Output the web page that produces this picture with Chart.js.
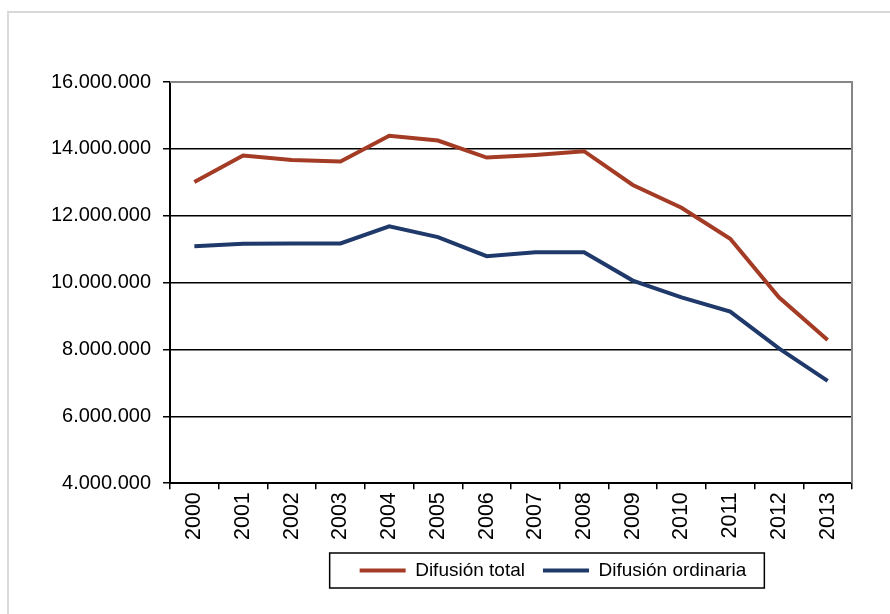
<!DOCTYPE html>
<html>
<head>
<meta charset="utf-8">
<script src="https://cdn.jsdelivr.net/npm/chart.js@4/dist/chart.umd.min.js"></script>
<style>
    html, body { margin: 0; padding: 0; background: #ffffff; }
    #chartBox { width: 890px; height: 614px; }
</style>
</head>
<body>
<div id="chartBox"><canvas id="chtDifusion"></canvas></div>
<script>
'use strict';
let years = ['2000', '2001', '2002', '2003', '2004', '2005', '2006', '2007', '2008', '2009', '2010', '2011', '2012', '2013'];
let difusionTotal = [13010000, 13800000, 13670000, 13620000, 14390000, 14250000, 13740000, 13820000, 13930000, 12920000, 12240000, 11310000, 9560000, 8280000];
let difusionOrdinaria = [11090000, 11160000, 11170000, 11170000, 11680000, 11360000, 10790000, 10910000, 10910000, 10060000, 9560000, 9130000, 8030000, 7060000];
let seriesLabels = ['Difusión total', 'Difusión ordinaria'];
let yTicks = { min: 4000000, max: 16000000, step: 2000000 };

let colors = {
    total: '#a33b25',
    ordinaria: '#1f3a6a',
    frame: '#d9d9d9',
    plotBorder: '#868686',
    grid: '#000000'
};

function toThousands(value) {
    return String(value).replace(/\B(?=(\d{3})+(?!\d))/g, '.');
}

// outer frame, gray plot border (top/right) and box around the legend
let chartDecor = {
    id: 'chartDecor',
    beforeDraw(chart) {
        let ctx = chart.ctx;
        ctx.save();
        ctx.fillStyle = '#ffffff';
        ctx.fillRect(0, 0, chart.width, chart.height);
        ctx.strokeStyle = colors.frame;
        ctx.lineWidth = 2;
        ctx.strokeRect(8, 12, chart.width + 20, chart.height + 20);
        ctx.restore();
    },
    beforeDatasetsDraw(chart) {
        let ctx = chart.ctx;
        let area = chart.chartArea;
        ctx.save();
        ctx.strokeStyle = colors.plotBorder;
        ctx.lineWidth = 2;
        ctx.beginPath();
        ctx.moveTo(area.left, area.top);
        ctx.lineTo(area.right, area.top);
        ctx.lineTo(area.right, area.bottom);
        ctx.stroke();
        ctx.restore();
    },
    afterLayout(chart) {
        let legend = chart.legend;
        let dx = 553 - (legend.left + legend.right) / 2;
        legend.left += dx;
        legend.right += dx;
    },
    afterDraw(chart) {
        let boxes = chart.legend.legendHitBoxes;
        if (!boxes || boxes.length == 0) {
            return;
        }
        let first = boxes[0];
        let last = boxes[boxes.length - 1];
        let ctx = chart.ctx;
        ctx.save();
        ctx.strokeStyle = '#000000';
        ctx.lineWidth = 1.5;
        ctx.strokeRect(first.left - 30, first.top - 8, last.left + last.width - first.left + 48, first.height + 16);
        ctx.restore();
    }
};

let chart = new Chart(document.getElementById('chtDifusion'), {
    type: 'line',
    data: {
        labels: years,
        datasets: [
            {
                label: seriesLabels[0],
                data: difusionTotal,
                borderColor: colors.total,
                backgroundColor: colors.total,
                borderWidth: 4,
                pointRadius: 0,
                tension: 0
            }, {
                label: seriesLabels[1],
                data: difusionOrdinaria,
                borderColor: colors.ordinaria,
                backgroundColor: colors.ordinaria,
                borderWidth: 4,
                pointRadius: 0,
                tension: 0
            }
        ]
    },
    options: {
        responsive: true,
        maintainAspectRatio: false,
        animation: false,
        layout: {
            padding: { left: 0, right: 38, top: 82, bottom: 24 }
        },
        plugins: {
            tooltip: { enabled: false },
            legend: {
                display: true,
                position: 'bottom',
                labels: {
                    usePointStyle: true,
                    pointStyle: 'line',
                    pointStyleWidth: 46,
                    padding: 18,
                    color: '#000000',
                    font: { family: 'Liberation Sans, Arial, sans-serif', size: 19 }
                }
            }
        },
        scales: {
            x: {
                offset: true,
                grid: {
                    offset: true,
                    drawOnChartArea: false,
                    drawTicks: true,
                    tickLength: 6,
                    color: colors.grid,
                    lineWidth: 1.5
                },
                border: { color: '#000000', width: 2 },
                ticks: {
                    minRotation: 90,
                    maxRotation: 90,
                    padding: 3,
                    color: '#000000',
                    font: { family: 'Liberation Sans, Arial, sans-serif', size: 21.5 }
                }
            },
            y: {
                min: yTicks.min,
                max: yTicks.max,
                afterFit(scale) {
                    scale.width = 170;
                },
                grid: {
                    color: (context) => {
                        return context.tick && context.tick.value == yTicks.max ? colors.plotBorder : colors.grid;
                    },
                    tickColor: '#000000',
                    lineWidth: 1.5,
                    tickLength: 7
                },
                border: { color: '#000000', width: 2 },
                ticks: {
                    stepSize: yTicks.step,
                    padding: 12,
                    color: '#000000',
                    font: { family: 'Liberation Sans, Arial, sans-serif', size: 20 },
                    callback: (value) => {
                        return toThousands(value);
                    }
                }
            }
        }
    },
    plugins: [chartDecor]
});
</script>
</body>
</html>
